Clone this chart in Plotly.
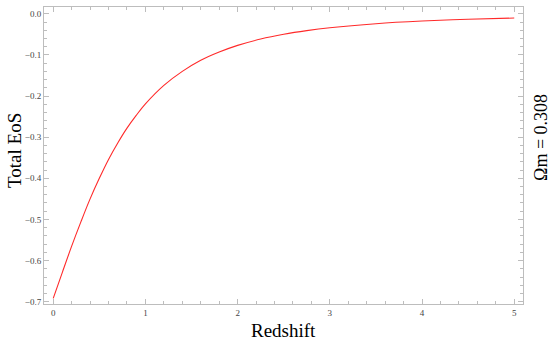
import plotly.graph_objects as go

# values
redshift = [0.0, 0.1, 0.2, 0.3, 0.4, 0.5, 0.6, 0.7, 0.8, 0.9, 1.0, 1.2, 1.4, 1.6,
            1.8, 2.0, 2.25, 2.5, 2.75, 3.0, 3.5, 4.0, 4.5, 5.0]
total_eos = [-0.692, -0.628, -0.565, -0.506, -0.450, -0.400, -0.354, -0.314, -0.278,
             -0.247, -0.219, -0.174, -0.140, -0.113, -0.093, -0.0768, -0.0614, -0.0498,
             -0.0409, -0.0339, -0.0241, -0.0177, -0.0133, -0.0103]

x_ticks = [0, 1, 2, 3, 4, 5]
y_ticks = [0.0, -0.1, -0.2, -0.3, -0.4, -0.5, -0.6, -0.7]
y_labels = ["0.0", "\u22120.1", "\u22120.2", "\u22120.3", "\u22120.4", "\u22120.5", "\u22120.6", "\u22120.7"]

serif = "Liberation Serif"
frame = "#bdbdbd"

fig = go.Figure()
fig.add_trace(go.Scatter(x=redshift, y=total_eos, mode="lines",
                         line=dict(color="#ff2a2a", width=1.1, shape="spline"),
                         showlegend=False))

axis_common = dict(showgrid=False, zeroline=False, showline=True, linecolor=frame, linewidth=1,
                   mirror="allticks", ticks="inside", ticklen=5, tickcolor=frame, tickwidth=1,
                   tickfont=dict(family=serif, size=9, color="#444"))

fig.update_xaxes(range=[-0.1, 5.095], tickvals=x_ticks, ticktext=[str(t) for t in x_ticks],
                 minor=dict(dtick=0.2, ticks="inside", ticklen=3, tickcolor=frame, showgrid=False),
                 **axis_common)
fig.update_yaxes(range=[-0.7056, 0.0165], tickvals=y_ticks, ticktext=y_labels,
                 minor=dict(dtick=0.02, ticks="inside", ticklen=3, tickcolor=frame, showgrid=False),
                 **axis_common)

fig.add_annotation(text="Redshift", x=0.5, y=-0.09, xref="paper", yref="paper",
                   xanchor="center", yanchor="middle", showarrow=False,
                   font=dict(family=serif, size=19, color="black"))
fig.add_annotation(text="Total EoS", x=-0.063, y=0.518, xref="paper", yref="paper",
                   xanchor="center", yanchor="middle", showarrow=False, textangle=-90,
                   font=dict(family=serif, size=19, color="black"))
fig.add_annotation(text="\u03a9m = 0.308", x=1.036, y=0.56, xref="paper", yref="paper",
                   xanchor="center", yanchor="middle", showarrow=False, textangle=-90,
                   font=dict(family=serif, size=18, color="black"))

fig.update_layout(width=550, height=343, margin=dict(l=44, r=27, t=7, b=39),
                  plot_bgcolor="white", paper_bgcolor="white")

fig.write_html("out.html", config={"displayModeBar": False},
               post_script="document.body.style.margin='0';")
